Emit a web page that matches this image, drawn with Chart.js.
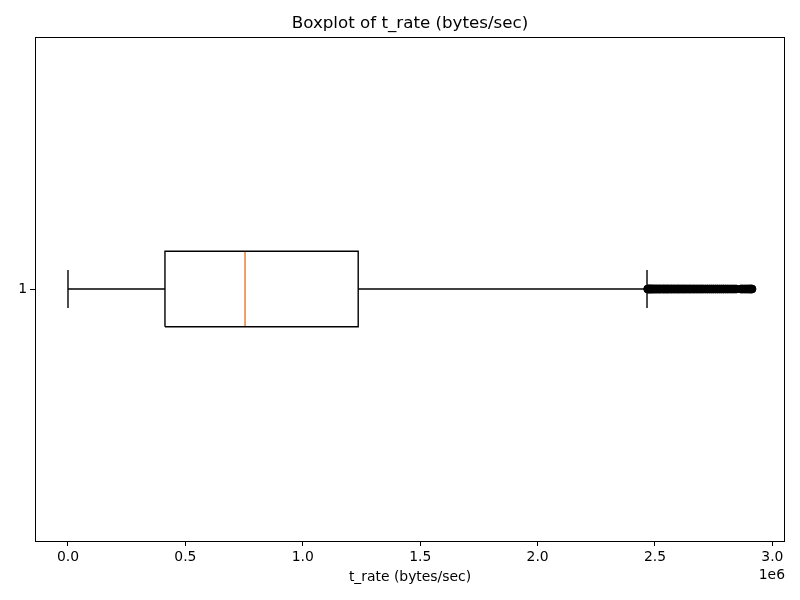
<!DOCTYPE html>
<html>
<head>
<meta charset="utf-8">
<script src="https://cdn.jsdelivr.net/npm/chart.js@4.4.1/dist/chart.umd.min.js"></script>
<style>
  body { margin: 0; background: #fff; }
  #wrap { width: 800px; height: 600px; }
</style>
</head>
<body>
<div id="wrap"><canvas id="grafico" width="800" height="600"></canvas></div>
<script>
// ---------------- DADOS ----------------
const categorias = ["1"];
const posicoes = [1];
const whiskerLow = [0];
const q1 = [0.413e6];
const mediana = [0.754e6];
const q3 = [1.236e6];
const whiskerHigh = [2.466e6];
const outliers = [
  2.469, 2.473, 2.477, 2.481, 2.486, 2.490, 2.495, 2.501, 2.506, 2.512,
  2.518, 2.523, 2.530, 2.536, 2.541, 2.548, 2.553, 2.559, 2.566, 2.572,
  2.579, 2.585, 2.592, 2.598, 2.604, 2.611, 2.618, 2.624, 2.631, 2.639,
  2.646, 2.653, 2.661, 2.668, 2.676, 2.684, 2.692, 2.699, 2.707, 2.716,
  2.724, 2.733, 2.741, 2.749, 2.758, 2.766, 2.775, 2.784, 2.792, 2.801,
  2.810, 2.819, 2.828, 2.836, 2.845, 2.866, 2.873, 2.881, 2.889, 2.896,
  2.903, 2.908, 2.913
].map(v => v * 1e6);
const xTicks = [0, 0.5e6, 1.0e6, 1.5e6, 2.0e6, 2.5e6, 3.0e6];

// ---------------- ESTILO ----------------
const meiaCaixa = 0.075;   // metade da largura da caixa (unidades do eixo y)
const meiaCap = 0.0375;
const FONTE = "'DejaVu Sans', sans-serif";

// ---------------- DATASETS ----------------
const datasets = [];
const linha = (pts, cor) => ({
  type: "scatter",
  data: pts,
  showLine: true,
  borderColor: cor,
  borderWidth: 1.4,
  pointRadius: 0,
  fill: false
});

posicoes.forEach((p, i) => {
  // caixa
  datasets.push(linha([
    { x: q1[i], y: p - meiaCaixa }, { x: q3[i], y: p - meiaCaixa },
    { x: q3[i], y: p + meiaCaixa }, { x: q1[i], y: p + meiaCaixa },
    { x: q1[i], y: p - meiaCaixa }
  ], "#000"));
  // bigodes
  datasets.push(linha([{ x: whiskerLow[i], y: p }, { x: q1[i], y: p }], "#000"));
  datasets.push(linha([{ x: q3[i], y: p }, { x: whiskerHigh[i], y: p }], "#000"));
  // caps
  datasets.push(linha([{ x: whiskerLow[i], y: p - meiaCap }, { x: whiskerLow[i], y: p + meiaCap }], "#000"));
  datasets.push(linha([{ x: whiskerHigh[i], y: p - meiaCap }, { x: whiskerHigh[i], y: p + meiaCap }], "#000"));
  // mediana
  datasets.push(linha([{ x: mediana[i], y: p - meiaCaixa }, { x: mediana[i], y: p + meiaCaixa }], "#e8772e"));
  // outliers
  datasets.push({
    type: "scatter",
    data: outliers.map(v => ({ x: v, y: p })),
    pointRadius: 4,
    pointBackgroundColor: "#000",
    pointBorderColor: "#000",
    pointBorderWidth: 1,
    showLine: false
  });
});

// ---------------- PLUGIN: moldura, título, rótulos ----------------
const extras = {
  id: "extras",
  afterDraw(chart) {
    const { ctx, chartArea: a } = chart;
    ctx.save();
    ctx.strokeStyle = "#000";
    ctx.lineWidth = 1;
    ctx.strokeRect(Math.round(a.left) + 0.5, Math.round(a.top) + 0.5,
      Math.round(a.right - a.left) - 1, Math.round(a.bottom - a.top));
    ctx.fillStyle = "#000";
    ctx.textAlign = "center";
    ctx.textBaseline = "middle";
    ctx.font = "16.7px " + FONTE;
    ctx.fillText("Boxplot of t_rate (bytes/sec)", (a.left + a.right) / 2, 24);
    ctx.font = "13.9px " + FONTE;
    ctx.fillText("t_rate (bytes/sec)", (a.left + a.right) / 2, 577);
    ctx.textAlign = "right";
    ctx.fillText("1e6", a.right, 575);
    ctx.restore();
  }
};

new Chart(document.getElementById("grafico"), {
  type: "scatter",
  data: { datasets },
  plugins: [extras],
  options: {
    responsive: false,
    animation: false,
    layout: { padding: { top: 37, right: 15, left: 0, bottom: 0 } },
    plugins: { legend: { display: false }, tooltip: { enabled: false } },
    scales: {
      x: {
        type: "linear",
        min: -0.1405e6,
        max: 3.0537e6,
        afterBuildTicks: (s) => { s.ticks = xTicks.map(v => ({ value: v })); },
        afterFit: (s) => { s.height = 59; },
        ticks: {
          color: "#000",
          font: { family: FONTE, size: 13.9 },
          padding: 3,
          maxRotation: 0,
          callback: (v) => (v / 1e6).toFixed(1)
        },
        grid: { drawOnChartArea: false, tickLength: 5, color: "#000" },
        border: { display: false }
      },
      y: {
        type: "linear",
        min: 0.5,
        max: 1.5,
        afterBuildTicks: (s) => { s.ticks = posicoes.map(v => ({ value: v })); },
        afterFit: (s) => { s.width = 35; },
        ticks: {
          color: "#000",
          font: { family: FONTE, size: 13.9 },
          padding: 3,
          callback: (v) => categorias[posicoes.indexOf(v)] ?? ""
        },
        grid: { drawOnChartArea: false, tickLength: 5, color: "#000" },
        border: { display: false }
      }
    }
  }
});
</script>
</body>
</html>
